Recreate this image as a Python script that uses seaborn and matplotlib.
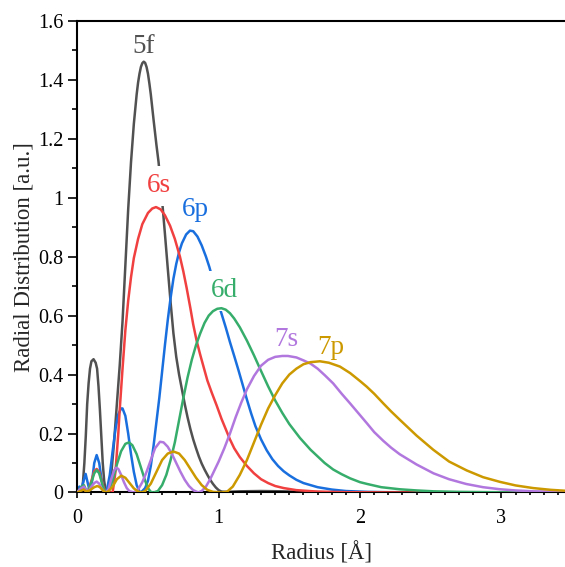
import matplotlib
matplotlib.use("Agg")
import matplotlib.pyplot as plt
import seaborn as sns
from matplotlib.ticker import MultipleLocator, FuncFormatter

# ---------------- data ----------------
r_5f = [0.00, 0.02, 0.035, 0.05, 0.06, 0.07, 0.08, 0.09, 0.10, 0.115, 0.13, 0.14, 0.15, 0.16, 0.17,
        0.18, 0.19, 0.20, 0.21, 0.22, 0.24, 0.26, 0.28, 0.30, 0.32, 0.34, 0.36, 0.38, 0.40, 0.42,
        0.43, 0.44, 0.45, 0.46, 0.47, 0.48, 0.49, 0.50, 0.51, 0.52, 0.54, 0.56, 0.575, 0.60, 0.62,
        0.64, 0.66, 0.68, 0.70, 0.72, 0.74, 0.76, 0.78, 0.80, 0.82, 0.84, 0.86, 0.88, 0.90, 0.92,
        0.94, 0.96, 0.98, 1.00, 1.02, 1.05, 1.15, 1.30, 1.45, 1.60, 1.80, 2.20, 3.45]
d_5f = [0.0, 0.005, 0.0, 0.10, 0.19, 0.30, 0.37, 0.42, 0.445, 0.452, 0.44, 0.42, 0.36, 0.28, 0.19,
        0.10, 0.04, 0.008, 0.0, 0.01, 0.06, 0.17, 0.30, 0.43, 0.58, 0.77, 0.96, 1.12, 1.25, 1.35,
        1.39, 1.42, 1.443, 1.456, 1.461, 1.457, 1.443, 1.42, 1.387, 1.35, 1.262, 1.178, 1.12, 0.99, 0.877,
        0.76, 0.645, 0.54, 0.46, 0.40, 0.35, 0.30, 0.255, 0.215, 0.18, 0.15, 0.122, 0.098, 0.078, 0.06,
        0.043, 0.029, 0.017, 0.008, 0.003, 0.002, 0.004, 0.005, 0.004, 0.002, 0.0005, 0.0, 0.0]

r_6s = [0.00, 0.02, 0.035, 0.05, 0.065, 0.08, 0.10, 0.12, 0.137, 0.155, 0.17, 0.185, 0.20, 0.22, 0.25,
        0.27, 0.29, 0.30, 0.32, 0.34, 0.36, 0.38, 0.40, 0.43, 0.46, 0.50, 0.53, 0.557, 0.59, 0.62,
        0.656, 0.69, 0.726, 0.75, 0.773, 0.80, 0.82, 0.844, 0.868, 0.891, 0.92, 0.95, 0.986, 1.02, 1.05,
        1.08, 1.11, 1.15, 1.20, 1.25, 1.30, 1.35, 1.40, 1.46, 1.55, 1.70, 1.90, 2.20, 3.45]
d_6s = [0.0, 0.01, 0.02, 0.012, 0.0, 0.01, 0.04, 0.072, 0.08, 0.07, 0.045, 0.018, 0.002, 0.0, 0.0,
        0.07, 0.2, 0.28, 0.42, 0.55, 0.65, 0.73, 0.795, 0.86, 0.91, 0.948, 0.963, 0.968, 0.96, 0.94,
        0.905, 0.86, 0.80, 0.75, 0.695, 0.625, 0.57, 0.515, 0.47, 0.43, 0.38, 0.34, 0.295, 0.25, 0.215,
        0.18, 0.15, 0.12, 0.09, 0.065, 0.045, 0.032, 0.022, 0.015, 0.008, 0.003, 0.001, 0.0, 0.0]

r_6p = [0.00, 0.015, 0.03, 0.045, 0.059, 0.075, 0.09, 0.105, 0.12, 0.137, 0.155, 0.17, 0.185, 0.195, 0.21,
        0.23, 0.25, 0.27, 0.29, 0.31, 0.32, 0.34, 0.36, 0.38, 0.40, 0.42, 0.44, 0.45, 0.48, 0.50,
        0.52, 0.54, 0.56, 0.58, 0.60, 0.62, 0.64, 0.66, 0.68, 0.70, 0.72, 0.74, 0.77, 0.797, 0.82,
        0.85, 0.88, 0.91, 0.934, 0.96, 0.985, 1.009, 1.05, 1.08, 1.11, 1.14, 1.17, 1.20, 1.23, 1.26,
        1.30, 1.34, 1.38, 1.42, 1.46, 1.50, 1.55, 1.60, 1.70, 1.80, 1.90, 2.05, 2.30, 3.45]
d_6p = [0.0, 0.02, 0.015, 0.04, 0.063, 0.03, 0.0, 0.04, 0.10, 0.127, 0.10, 0.05, 0.012, 0.0, 0.01,
        0.06, 0.14, 0.215, 0.265, 0.285, 0.285, 0.26, 0.20, 0.13, 0.07, 0.025, 0.003, 0.0, 0.015, 0.04,
        0.09, 0.16, 0.24, 0.32, 0.41, 0.50, 0.585, 0.66, 0.725, 0.775, 0.815, 0.845, 0.875, 0.888, 0.886,
        0.868, 0.838, 0.80, 0.765, 0.72, 0.67, 0.624, 0.56, 0.51, 0.463, 0.415, 0.365, 0.315, 0.268, 0.225,
        0.18, 0.143, 0.113, 0.09, 0.072, 0.058, 0.043, 0.032, 0.018, 0.01, 0.005, 0.002, 0.0, 0.0]

r_6d = [0.00, 0.015, 0.03, 0.047, 0.065, 0.08, 0.10, 0.12, 0.137, 0.155, 0.17, 0.185, 0.20, 0.22, 0.25,
        0.28, 0.31, 0.34, 0.366, 0.39, 0.42, 0.45, 0.48, 0.50, 0.52, 0.54, 0.57, 0.60, 0.63, 0.66,
        0.69, 0.72, 0.75, 0.78, 0.81, 0.84, 0.87, 0.90, 0.93, 0.96, 0.99, 1.02, 1.05, 1.08, 1.11,
        1.15, 1.20, 1.25, 1.30, 1.35, 1.40, 1.45, 1.50, 1.575, 1.65, 1.75, 1.81, 1.87, 1.93, 2.00,
        2.05, 2.15, 2.28, 2.40, 2.52, 2.70, 3.00, 3.45]
d_6d = [0.0, 0.01, 0.02, 0.025, 0.005, 0.01, 0.035, 0.065, 0.076, 0.065, 0.04, 0.015, 0.0, 0.005, 0.04,
        0.095, 0.14, 0.165, 0.17, 0.16, 0.13, 0.085, 0.04, 0.015, 0.002, 0.0, 0.005, 0.025, 0.06, 0.11,
        0.17, 0.245, 0.32, 0.39, 0.45, 0.50, 0.54, 0.575, 0.60, 0.615, 0.623, 0.625, 0.62, 0.608, 0.59,
        0.56, 0.515, 0.465, 0.412, 0.36, 0.312, 0.27, 0.232, 0.185, 0.145, 0.10, 0.078, 0.062, 0.048, 0.035,
        0.029, 0.018, 0.011, 0.007, 0.004, 0.002, 0.0005, 0.0]

r_7s = [0.00, 0.015, 0.03, 0.047, 0.06, 0.08, 0.10, 0.12, 0.137, 0.155, 0.17, 0.19, 0.20, 0.22, 0.24,
        0.26, 0.274, 0.29, 0.31, 0.33, 0.35, 0.37, 0.40, 0.43, 0.46, 0.49, 0.52, 0.55, 0.585, 0.61,
        0.64, 0.67, 0.70, 0.73, 0.76, 0.79, 0.82, 0.856, 0.88, 0.91, 0.94, 0.97, 1.00, 1.04, 1.08,
        1.12, 1.16, 1.20, 1.25, 1.30, 1.35, 1.40, 1.45, 1.49, 1.55, 1.60, 1.65, 1.70, 1.75, 1.81,
        1.87, 1.93, 1.99, 2.05, 2.10, 2.165, 2.22, 2.28, 2.40, 2.52, 2.63, 2.75, 2.87, 2.99, 3.10,
        3.225, 3.45]
d_7s = [0.0, 0.01, 0.015, 0.02, 0.01, 0.005, 0.02, 0.032, 0.037, 0.03, 0.015, 0.003, 0.0, 0.01, 0.045,
        0.075, 0.084, 0.08, 0.06, 0.035, 0.015, 0.004, 0.0, 0.01, 0.035, 0.07, 0.11, 0.15, 0.172, 0.17,
        0.155, 0.13, 0.10, 0.07, 0.043, 0.022, 0.008, 0.0, 0.005, 0.02, 0.045, 0.075, 0.105, 0.15, 0.20,
        0.255, 0.305, 0.35, 0.395, 0.43, 0.45, 0.46, 0.463, 0.463, 0.458, 0.448, 0.437, 0.42, 0.398, 0.37,
        0.335, 0.302, 0.268, 0.234, 0.205, 0.175, 0.152, 0.13, 0.095, 0.065, 0.045, 0.029, 0.018, 0.011, 0.007,
        0.004, 0.002]

r_7p = [0.00, 0.02, 0.047, 0.065, 0.09, 0.12, 0.142, 0.16, 0.18, 0.20, 0.22, 0.25, 0.28, 0.311, 0.34,
        0.37, 0.40, 0.43, 0.455, 0.48, 0.52, 0.56, 0.60, 0.64, 0.68, 0.72, 0.76, 0.80, 0.84, 0.88,
        0.92, 0.96, 1.02, 1.06, 1.10, 1.15, 1.20, 1.25, 1.30, 1.35, 1.40, 1.45, 1.50, 1.55, 1.60,
        1.65, 1.716, 1.78, 1.858, 1.93, 2.00, 2.047, 2.10, 2.165, 2.22, 2.283, 2.40, 2.518, 2.63, 2.754,
        2.87, 2.99, 3.10, 3.225, 3.35, 3.45]
d_7p = [0.0, 0.005, 0.01, 0.003, 0.008, 0.018, 0.022, 0.018, 0.008, 0.0, 0.004, 0.02, 0.045, 0.057, 0.05,
        0.032, 0.014, 0.003, 0.0, 0.005, 0.03, 0.07, 0.11, 0.132, 0.139, 0.132, 0.11, 0.08, 0.05, 0.025,
        0.009, 0.002, 0.0, 0.003, 0.02, 0.06, 0.11, 0.17, 0.23, 0.285, 0.33, 0.37, 0.40, 0.42, 0.435,
        0.442, 0.445, 0.44, 0.427, 0.405, 0.378, 0.359, 0.335, 0.302, 0.275, 0.246, 0.193, 0.145, 0.105, 0.075,
        0.052, 0.036, 0.024, 0.015, 0.009, 0.006]

orbitals = ["5f", "6s", "6p", "6d", "7s", "7p"]
colors = ["#515151", "#F14040", "#1A6FDF", "#37AD6B", "#B177DE", "#CC9900"]
# label anchor (x, baseline y) for each orbital
label_x = [0.467, 0.579, 0.838, 1.039, 1.477, 1.796]
label_y = [1.491, 1.018, 0.9376, 0.662, 0.497, 0.470]

x_ticks = [0, 1, 2, 3]
y_ticks = [0, 0.2, 0.4, 0.6, 0.8, 1, 1.2, 1.4, 1.6]

# ---------------- figure ----------------
sns.set_style("ticks")
plt.rcParams['font.family'] = ['Liberation Serif', 'DejaVu Serif']

fig = plt.figure(figsize=(5.65, 5.67), dpi=100)
ax = fig.add_axes([0.1368, 0.1314, 0.8632, 0.8321])

series = {"5f": (r_5f, d_5f), "6s": (r_6s, d_6s), "6p": (r_6p, d_6p),
          "6d": (r_6d, d_6d), "7s": (r_7s, d_7s), "7p": (r_7p, d_7p)}
# curves partly hidden behind label boxes sit below the labels
below = {"5f", "6p"}
boxed = {"6s", "6d"}

for name, col in zip(orbitals, colors):
    r, d = series[name]
    sns.lineplot(x=r, y=d, ax=ax, color=col, lw=1.8, sort=False, estimator=None,
                 zorder=2 if name in below else 4)

for name, col, lx, ly in zip(orbitals, colors, label_x, label_y):
    kw = {}
    if name in boxed:
        kw["bbox"] = dict(boxstyle="square,pad=0.28", fc="white", ec="none")
    ax.text(lx, ly, name, color=col, fontsize=19.5, ha="center", va="baseline",
            zorder=3, **kw)

ax.set_xlim(0, 3.45)
ax.set_ylim(0, 1.6)
ax.set_xticks(x_ticks)
ax.set_yticks(y_ticks)
ax.xaxis.set_minor_locator(MultipleLocator(0.1))
ax.yaxis.set_minor_locator(MultipleLocator(0.1))
ax.yaxis.set_major_formatter(FuncFormatter(lambda v, p: f"{round(v, 2):g}"))
ax.xaxis.set_major_formatter(FuncFormatter(lambda v, p: f"{round(v, 2):g}"))

for s in ["left", "bottom", "top"]:
    ax.spines[s].set_linewidth(1.5)
    ax.spines[s].set_color("black")
ax.spines["right"].set_visible(False)

ax.tick_params(axis="both", which="both", direction="out", top=False, right=False,
               color="black", width=1.2, labelcolor="black")
ax.tick_params(axis="y", which="major", length=6.5, pad=3.4, labelsize=14.5)
ax.tick_params(axis="y", which="minor", length=3.3)
ax.tick_params(axis="x", which="major", length=4.5, pad=7.5, labelsize=14.5)
ax.tick_params(axis="x", which="minor", length=2.5)

ax.set_xlabel("Radius [Å]", fontsize=16.5, labelpad=10)
ax.set_ylabel("Radial Distribution [a.u.]", fontsize=16.5, labelpad=3)

fig.savefig("out.png", dpi=100)
